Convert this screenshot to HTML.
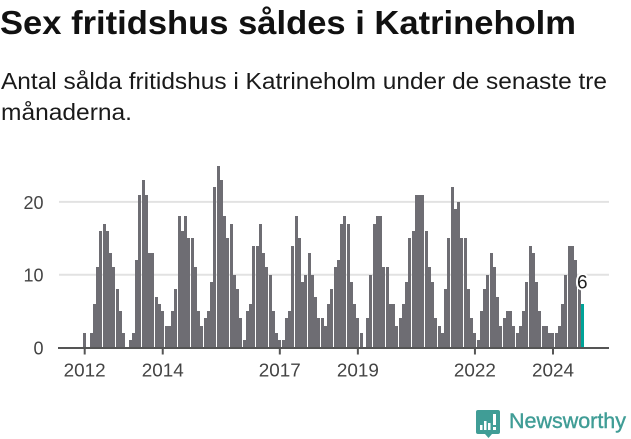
<!DOCTYPE html>
<html lang="sv">
<head>
<meta charset="utf-8">
<title>Sex fritidshus såldes i Katrineholm</title>
<style>
html,body{margin:0;padding:0;background:#fff;width:631px;height:439px;overflow:hidden}
svg{display:block}
text{font-family:"Liberation Sans","Noto Sans CJK JP",sans-serif}
</style>
</head>
<body>
<svg id="chart" width="631" height="439" viewBox="0 0 631 439" xmlns="http://www.w3.org/2000/svg">
  <text x="0" y="34" font-size="33" font-weight="700" fill="#111" textLength="576" lengthAdjust="spacingAndGlyphs">Sex fritidshus såldes i Katrineholm</text>
  <text x="1" y="89" font-size="23" fill="#1a1a1a" textLength="606" lengthAdjust="spacingAndGlyphs">Antal sålda fritidshus i Katrineholm under de senaste tre</text>
  <text x="1" y="120" font-size="23" fill="#1a1a1a" textLength="131" lengthAdjust="spacingAndGlyphs">månaderna.</text>
  <g id="grid"></g>
  <g id="bars" shape-rendering="crispEdges"></g>
  <g id="axes"></g>
  <g id="labels"></g>
  <g>
    <path fill="#409d96" d="M478 410h20a2 2 0 0 1 2 2v20a2 2 0 0 1-2 2h-6l-3.500 4-3.500-4h-7a2 2 0 0 1-2-2v-20a2 2 0 0 1 2-2z"/>
    <rect x="480" y="425" width="2.500" height="5" fill="#fff"/>
    <rect x="484" y="421" width="2.500" height="9" fill="#fff"/>
    <rect x="488" y="423" width="2.500" height="7" fill="#fff"/>
    <rect x="493" y="414" width="3" height="11" fill="#fff"/>
    <rect x="493" y="427" width="3" height="3" fill="#fff"/>
    <text x="509" y="428" font-size="21" font-weight="400" fill="#409d96" stroke="#409d96" stroke-width="0.400" textLength="117" lengthAdjust="spacingAndGlyphs">Newsworthy</text>
  </g>
</svg>
<script>
const values = [
  2, 0, 2, 6, 11, 16, 17, 16, 13, 11, 8, 5,
  2, 0, 1, 2, 12, 21, 23, 21, 13, 13, 7, 6,
  5, 3, 3, 5, 8, 18, 16, 18, 15, 15, 11, 5,
  3, 4, 5, 9, 22, 25, 23, 18, 15, 17, 10, 8,
  4, 1, 5, 6, 14, 14, 17, 13, 11, 10, 5, 2,
  1, 1, 4, 5, 14, 18, 15, 9, 10, 13, 10, 7,
  4, 4, 3, 6, 8, 11, 12, 17, 18, 17, 9, 6,
  4, 2, 0, 4, 10, 17, 18, 18, 11, 11, 6, 6,
  3, 4, 6, 9, 15, 16, 21, 21, 21, 16, 11, 9,
  4, 3, 2, 8, 15, 22, 19, 20, 15, 15, 8, 4,
  2, 1, 5, 8, 10, 13, 11, 7, 3, 4, 5, 5,
  3, 2, 3, 5, 9, 14, 13, 9, 5, 3, 3, 2,
  2, 2, 3, 6, 10, 14, 14, 12, 8, 6
];
const tickYears = [2012, 2014, 2017, 2019, 2022, 2024];
const yTicks = [0, 10, 20];
const firstYear = 2012;

const NS = 'http://www.w3.org/2000/svg';
function xScale(monthIndex) { return 84.7 + 3.252 * monthIndex; }
function yScale(value) { return 347.5 - 7.28 * value; }
function xOfYear(year) { return xScale((year - firstYear) * 12); }
function make(tag, attrs) {
  const el = document.createElementNS(NS, tag);
  for (const k in attrs) el.setAttribute(k, attrs[k]);
  return el;
}

const grid = document.getElementById('grid');
const bars = document.getElementById('bars');
const axes = document.getElementById('axes');
const labels = document.getElementById('labels');

yTicks.forEach(function (t) {
  if (t !== 0) {
    const line = make('line', { x1: 59, x2: 609, y1: yScale(t), y2: yScale(t), stroke: '#e2e2e2', 'stroke-width': 2 });
    
    
    grid.appendChild(line);
  }
  const lab = make('text', { x: 43.5, y: yScale(t) + 7, 'text-anchor': 'end', 'font-size': 18, fill: '#444' });
  
  
  lab.textContent = String(t);
  axes.appendChild(lab);
});

values.forEach(function (v, i) {
  const last = i === values.length - 1;
  const left = Math.round(xScale(i) - 1.5);
  const top = Math.round(yScale(v));
  const rect = make('rect', {
    x: left, y: top, width: 3, height: Math.round(yScale(0)) - top,
    fill: last ? '#00a398' : '#6e6d73'
  });
  
  
  bars.appendChild(rect);
});

const axisLine = make('line', { x1: 58, x2: 609, y1: yScale(0) + 0.5, y2: yScale(0) + 0.5, stroke: '#555', 'stroke-width': 2 });


axes.appendChild(axisLine);

tickYears.forEach(function (yr) {
  const x = xOfYear(yr);
  const tick = make('line', { x1: x, x2: x, y1: yScale(0), y2: yScale(0) + 7, stroke: '#555', 'stroke-width': 2 });
  
  
  axes.appendChild(tick);
  const lab = make('text', { x: x, y: 376.5, 'text-anchor': 'middle', 'font-size': 18, fill: '#444', textLength: 42, lengthAdjust: 'spacingAndGlyphs' });
  
  
  lab.textContent = String(yr);
  axes.appendChild(lab);
});

const lastIndex = values.length - 1;
const valueLabel = make('text', {
  x: xScale(lastIndex), y: yScale(values[lastIndex]) - 15.5, 'text-anchor': 'middle', 'font-size': 19, fill: '#222',
  stroke: '#fff', 'stroke-width': 4, 'paint-order': 'stroke', 'stroke-linejoin': 'round'
});


valueLabel.textContent = String(values[lastIndex]);
labels.appendChild(valueLabel);
</script>
</body>
</html>
